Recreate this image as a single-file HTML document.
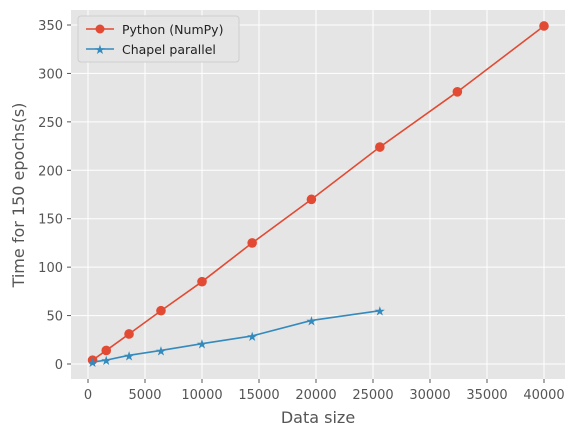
<!DOCTYPE html>
<html><head><meta charset="utf-8"><style>
body{margin:0;background:#fff;font-family:"Liberation Sans","DejaVu Sans",sans-serif;}
svg text{font-family:"DejaVu Sans","Liberation Sans",sans-serif;}
</style></head><body>
<svg id="chart" width="575" height="436" xmlns="http://www.w3.org/2000/svg">
<rect x="71" y="10" width="494" height="369" fill="#e5e5e5"/>
<g id="grid"></g><g id="series"></g><g id="ticks"></g>
<text x="318" y="423" font-size="16" fill="#555" text-anchor="middle">Data size</text>
<text transform="translate(24,195) rotate(-90)" font-size="16" fill="#555" text-anchor="middle">Time for 150 epochs(s)</text>
<g>
<rect x="78" y="16" width="161" height="46" rx="3" fill="#e5e5e5" stroke="#ccc" opacity="0.9"/>
<g>
<line x1="86" y1="29" x2="114" y2="29" stroke="#e24a33" stroke-width="1.5"/>
<circle cx="100" cy="29" r="4.5" fill="#e24a33"/>
<text x="122" y="34" font-size="12.5" fill="#222">Python (NumPy)</text></g>
<g>
<line x1="86" y1="49" x2="114" y2="49" stroke="#348abd" stroke-width="1.5"/>
<text x="100" y="54" font-size="13" fill="#348abd" text-anchor="middle">★</text>
<text x="122" y="54" font-size="12.5" fill="#222">Chapel parallel</text></g>
</g>
</svg>
<script>
const pyX=[400,1600,3600,6400,10000,14400,19600,25600,32400,40000];
const pyY=[4,14,31,55,85,125,170,224,281,349];
const chX=[400,1600,3600,6400,10000,14400,19600,25600];
const chY=[2,4,9,14,21,29,45,55];
const xTicks=[0,5000,10000,15000,20000,25000,30000,35000,40000];
const yTicks=[0,50,100,150,200,250,300,350];
const NS="http://www.w3.org/2000/svg";
const sx=v=>88+v*(456/40000);
const sy=v=>364-v*(339/350);
function mk(t,a,p){const e=document.createElementNS(NS,t);for(const k in a)e.setAttribute(k,a[k]);p.appendChild(e);return e;}
const grid=document.getElementById('grid'),ticks=document.getElementById('ticks'),ser=document.getElementById('series');
xTicks.forEach(v=>{
 const g=mk('line',{x1:sx(v),x2:sx(v),y1:10,y2:379,stroke:'#fff','stroke-width':1},grid);
 
 
 mk('line',{x1:sx(v),x2:sx(v),y1:379,y2:383,stroke:'#555'},ticks);
 const t=mk('text',{x:sx(v),y:399,'font-size':13,fill:'#555','text-anchor':'middle'},ticks);t.textContent=v;
 
 
});
yTicks.forEach(v=>{
 const g=mk('line',{x1:71,x2:565,y1:sy(v),y2:sy(v),stroke:'#fff','stroke-width':1},grid);
 
 
 mk('line',{x1:67,x2:71,y1:sy(v),y2:sy(v),stroke:'#555'},ticks);
 const t=mk('text',{x:63,y:sy(v)+5,'font-size':13,fill:'#555','text-anchor':'end'},ticks);t.textContent=v;
 
 
});
function series(xs,ys,color,name,star){
 const p=mk('polyline',{points:xs.map((x,i)=>sx(x)+','+sy(ys[i])).join(' '),fill:'none',stroke:color,'stroke-width':1.6},ser);
 
 
 xs.forEach((x,i)=>{
  let m;
  if(star){m=mk('text',{x:sx(x),y:sy(ys[i])+5,'font-size':13,fill:color,'text-anchor':'middle'},ser);m.textContent='★';}
  else m=mk('circle',{cx:sx(x),cy:sy(ys[i]),r:4.8,fill:color},ser);
  
  
 });
}
series(pyX,pyY,'#e24a33','python',false);
series(chX,chY,'#348abd','chapel',true);
</script>
</body></html>
